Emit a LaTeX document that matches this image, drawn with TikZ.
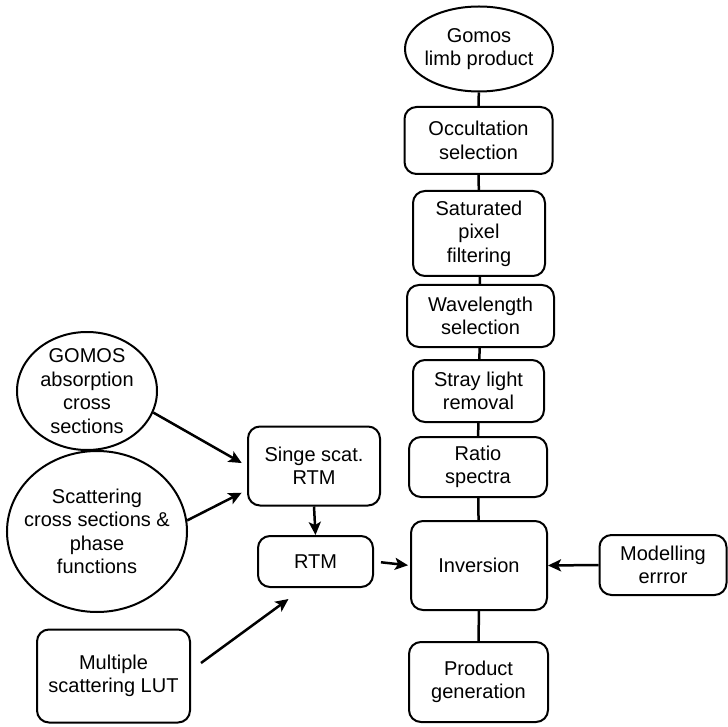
\documentclass[tikz,border=0pt]{standalone}
\usepackage{fontspec}
\setmainfont{Liberation Sans}
\usetikzlibrary{shapes.geometric,arrows.meta}
\newcommand\dfont{\fontsize{20}{23.5}\selectfont}
\tikzset{
  box/.style={draw, rounded corners=12pt, line width=2pt, align=center, inner sep=0pt, font=\dfont},
  ell/.style={draw, ellipse, line width=2pt, inner sep=0pt},
  txt/.style={font=\dfont, align=center},
  conn/.style={line width=2.5pt},
  arr/.style={conn, -{Stealth[length=13pt,width=12pt,inset=3pt]}},
}
\begin{document}
\begin{tikzpicture}[x=1pt,y=-1pt]
\useasboundingbox (0,0) rectangle (728,727);
% main column
\node[ell, minimum width=148pt, minimum height=85pt, label={[txt]center:Gomos\\limb product}] (gomos) at (479,49) {};
\node[box, minimum width=148pt, minimum height=67pt] (occ) at (478.5,140.5) {Occultation\\selection};
\node[box, minimum width=132pt, minimum height=85pt] (sat) at (479,233.5) {Saturated\\pixel\\filtering};
\node[box, minimum width=147pt, minimum height=62pt] (wave) at (480.5,316) {Wavelength\\selection};
\node[box, minimum width=131pt, minimum height=62pt] (stray) at (478.5,391) {Stray light\\removal};
\node[box, minimum width=138pt, minimum height=60pt] (ratio) at (478,467) {Ratio\\spectra};
\node[box, minimum width=136pt, minimum height=89pt] (inv) at (479,565.5) {Inversion};
\node[box, minimum width=139pt, minimum height=80pt] (prod) at (478.5,682) {Product\\generation};
\node[box, minimum width=127pt, minimum height=60pt] (mod) at (663,565) {Modelling\\errror};
% left side
\node[ell, minimum width=140pt, minimum height=118pt, label={[txt]center:GOMOS\\absorption\\cross\\sections}] (abs) at (87,391) {};
\node[ell, minimum width=180pt, minimum height=161pt, label={[txt]center:Scattering\\cross sections \&\\phase\\functions}] (scat) at (97,531.5) {};
\node[box, minimum width=153pt, minimum height=93pt] (mult) at (113.5,676) {Multiple\\scattering LUT};
\node[box, minimum width=132pt, minimum height=79pt] (singe) at (314,466) {Singe scat.\\RTM};
\node[box, minimum width=115pt, minimum height=51pt] (rtm) at (315.5,561.5) {RTM};
% main column connectors
\draw[conn] (gomos) -- (occ);
\draw[conn] (occ) -- (sat);
\draw[conn] (sat) -- (wave);
\draw[conn] (wave) -- (stray);
\draw[conn] (stray) -- (ratio);
\draw[conn] (ratio) -- (inv);
\draw[conn] (inv) -- (prod);
\draw[arr] (mod.west) -- (inv.east);
% left connectors
\draw[arr, shorten >=6pt] (abs.-18) -- (singe.west);
\draw[arr, shorten >=6pt] (scat.7) -- ([yshift=-24pt]singe.west);
\draw[arr] (singe.south) -- (rtm.north);
\draw[arr] ([shift={(10pt,13pt)}]mult.east) -- ([shift={(-27pt,-11pt)}]rtm.south);
\draw[arr, shorten <=7pt, shorten >=2pt] (rtm.east) -- (inv.west);
\end{tikzpicture}
\end{document}
